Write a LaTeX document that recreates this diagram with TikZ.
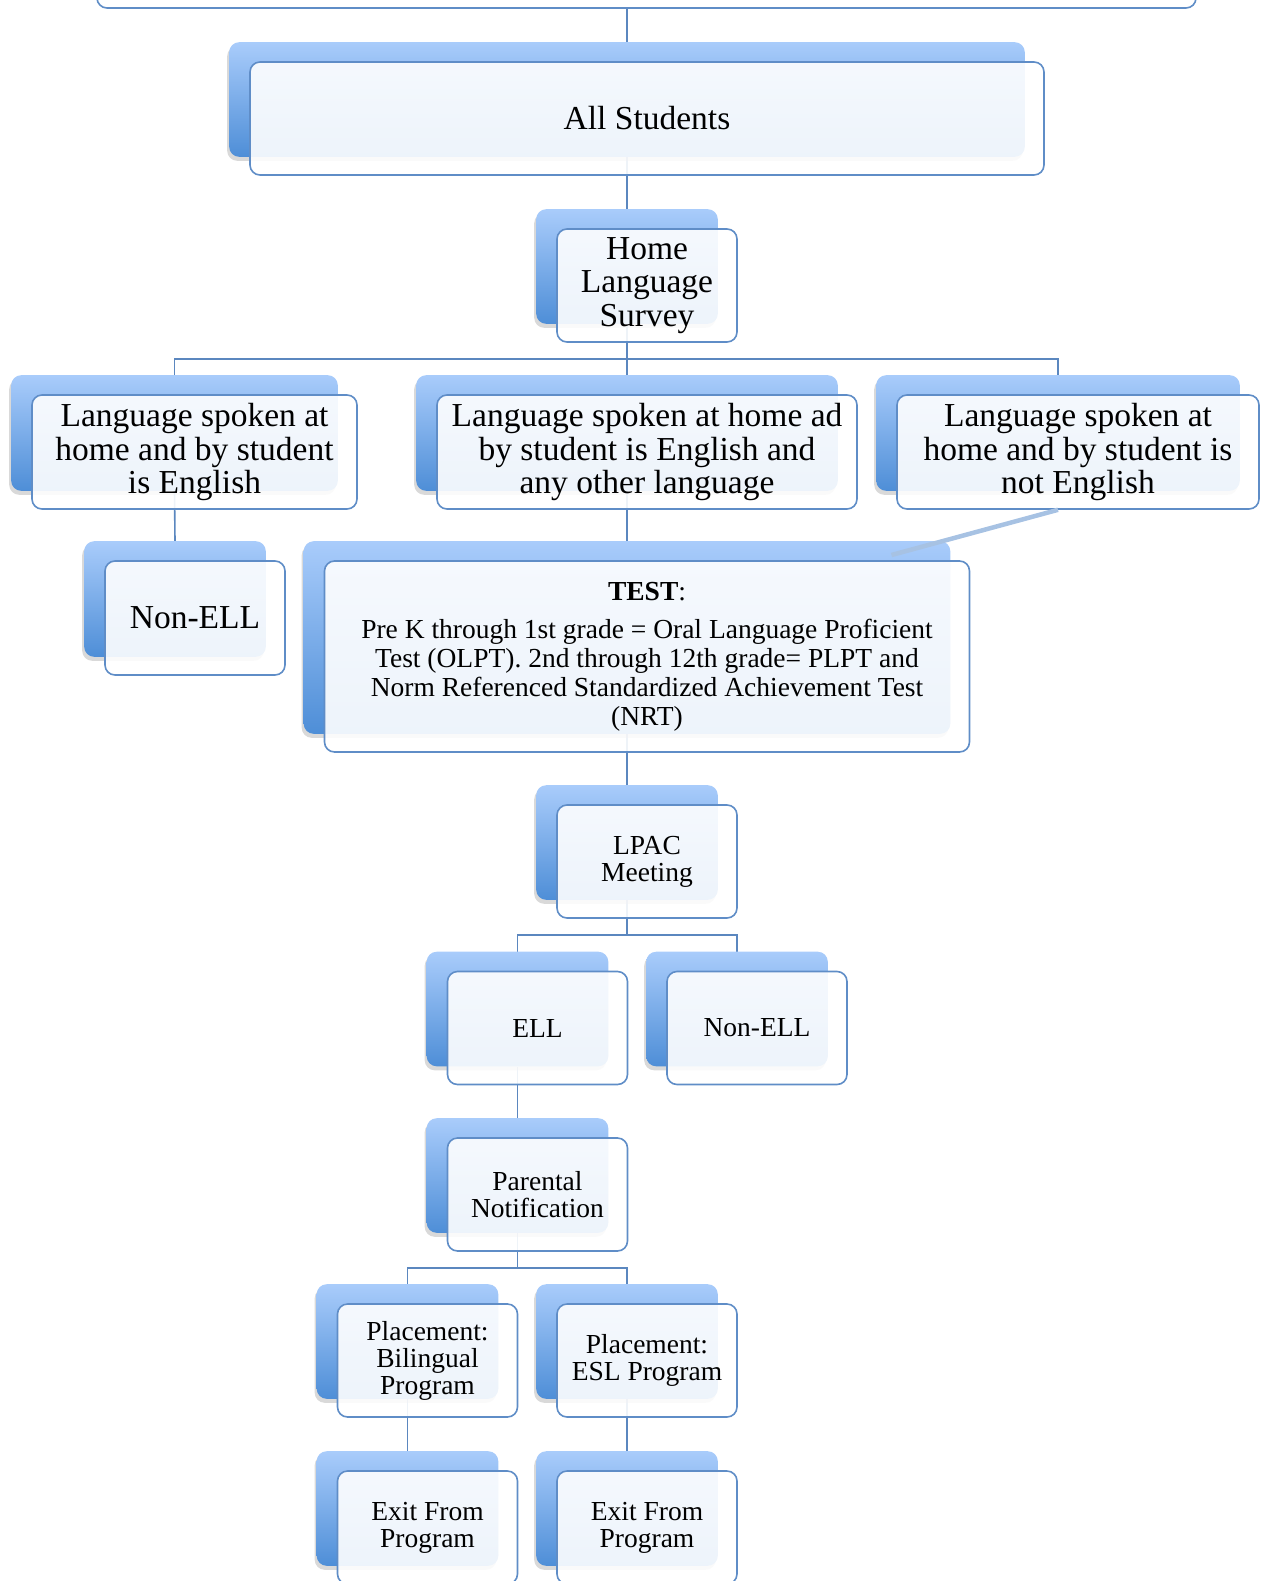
\documentclass[tikz,border=0pt]{standalone}
\usepackage{fontspec}
\setmainfont{Liberation Serif}
\usetikzlibrary{fit,calc,shadows}

\definecolor{boxline}{HTML}{5F8DC7}
\definecolor{conline}{HTML}{5B87BF}
\definecolor{shadetop}{HTML}{A9CCFB}
\definecolor{shadebot}{HTML}{4E8ED7}
\definecolor{ghost}{HTML}{A7C2E3}

\pgfdeclarelayer{lines}
\pgfdeclarelayer{backs}
\pgfsetlayers{lines,backs,main}

\tikzset{
  blk/.style={draw=boxline,line width=1.6pt,rounded corners=10pt,fill=white,fill opacity=.9,text opacity=1,
    align=center,inner sep=0pt,minimum width=180pt,minimum height=113pt,font=\fontsize{27.5}{27}\selectfont},
  bigblk/.style={blk,font=\fontsize{33.5}{33.5}\selectfont},
  bk/.style={rounded corners=10pt,inner sep=0pt,draw=none,top color=shadetop,bottom color=shadebot,
    drop shadow={shadow xshift=-2pt,shadow yshift=-4pt,opacity=.3}},
  conn/.style={draw=conline,line width=1.6pt},
  faint/.style={draw=ghost,line width=4.5pt}
}

\begin{document}
\begin{tikzpicture}[x=1pt,y=1pt]
\useasboundingbox (0,0) rectangle (1260,-1581);

% boxes
\node[blk,minimum width=1099pt,minimum height=76pt] (intro) at (646.5,30) {};
\node[bigblk,minimum width=794pt] (allst) at (647,-118.5) {All Students};
\node[bigblk] (survey) at (647,-285.5) {Home\\Language\\Survey};
\node[bigblk,minimum width=325pt,minimum height=114pt] (engl) at (194.5,-452) {Language spoken at\\home and by student\\is English};
\node[bigblk,minimum width=420pt,minimum height=114pt] (both) at (647,-452) {Language spoken at home ad\\by student is English and\\any other language};
\node[bigblk,minimum width=362pt,minimum height=114pt] (noteng) at (1078,-452) {Language spoken at\\home and by student is\\not English};
\node[bigblk,minimum height=114pt] (nonell) at (195,-618) {Non-ELL};
\node[blk,minimum width=645pt,minimum height=191pt,font=\fontsize{27.5}{28.7}\selectfont] (test) at (647,-656.5)
  {\textbf{TEST}:\\[10pt]Pre K through 1st grade = Oral Language Proficient\\Test (OLPT). 2nd through 12th grade= PLPT and\\Norm Referenced Standardized Achievement Test\\(NRT)};
\node[blk] (lpac) at (647,-861.5) {LPAC\\Meeting};
\node[blk] (ell) at (537.5,-1028) {ELL};
\node[blk] (nonellb) at (757,-1028) {Non-ELL};
\node[blk] (parent) at (537.5,-1194.5) {Parental\\Notification};
\node[blk] (biling) at (427.5,-1360.5) {Placement:\\Bilingual\\Program};
\node[blk] (esl) at (647,-1360.5) {Placement:\\ESL Program};
\node[blk] (exita) at (427.5,-1527.5) {Exit From\\Program};
\node[blk] (exitb) at (647,-1527.5) {Exit From\\Program};

% blue blocks behind
\begin{pgfonlayer}{backs}
\foreach \n in {allst,survey,engl,both,noteng,nonell,test,lpac,ell,nonellb,parent,biling,esl,exita,exitb}
  \node[bk,fit={([shift={(-20pt,19pt)}]\n.north west) ([shift={(-20pt,19pt)}]\n.south east)}] (\n-bk) {};
\end{pgfonlayer}

\coordinate (forka) at ($(survey.south)!.5!(both-bk.north)$);
\coordinate (forkb) at ($(lpac.south)!.5!(ell-bk.north)$);
\coordinate (forkc) at ($(parent.south)!.5!(biling-bk.north)$);
\coordinate (tiptest) at ([shift={(-59pt,-14pt)}]test-bk.north east);

% connectors
\begin{pgfonlayer}{lines}
\draw[conn] (allst-bk.north) -- (allst-bk.north |- intro.south);
\draw[conn] (allst-bk.south) -- (survey-bk.north);
\draw[conn] (survey-bk.south) -- (both-bk.north);
\draw[conn] (engl-bk.north) |- (forka) -| (noteng-bk.north);
\draw[conn] (engl-bk.south) -- (nonell-bk.north);
\draw[conn] (both-bk.south) -- (test-bk.north);
\draw[conn] (test-bk.south) -- (lpac-bk.north);
\draw[conn] (lpac-bk.south) -- (lpac-bk.south |- forkb);
\draw[conn] (ell-bk.north) |- (forkb) -| (nonellb-bk.north);
\draw[conn] (ell-bk.south) -- (parent-bk.north);
\draw[conn] (parent-bk.south) -- (parent-bk.south |- forkc);
\draw[conn] (biling-bk.north) |- (forkc) -| (esl-bk.north);
\draw[conn] (biling-bk.south) -- (exita-bk.north);
\draw[conn] (esl-bk.south) -- (exitb-bk.north);
\end{pgfonlayer}
\draw[faint] (noteng-bk.south |- noteng.south) -- (tiptest);
\end{tikzpicture}
\end{document}
